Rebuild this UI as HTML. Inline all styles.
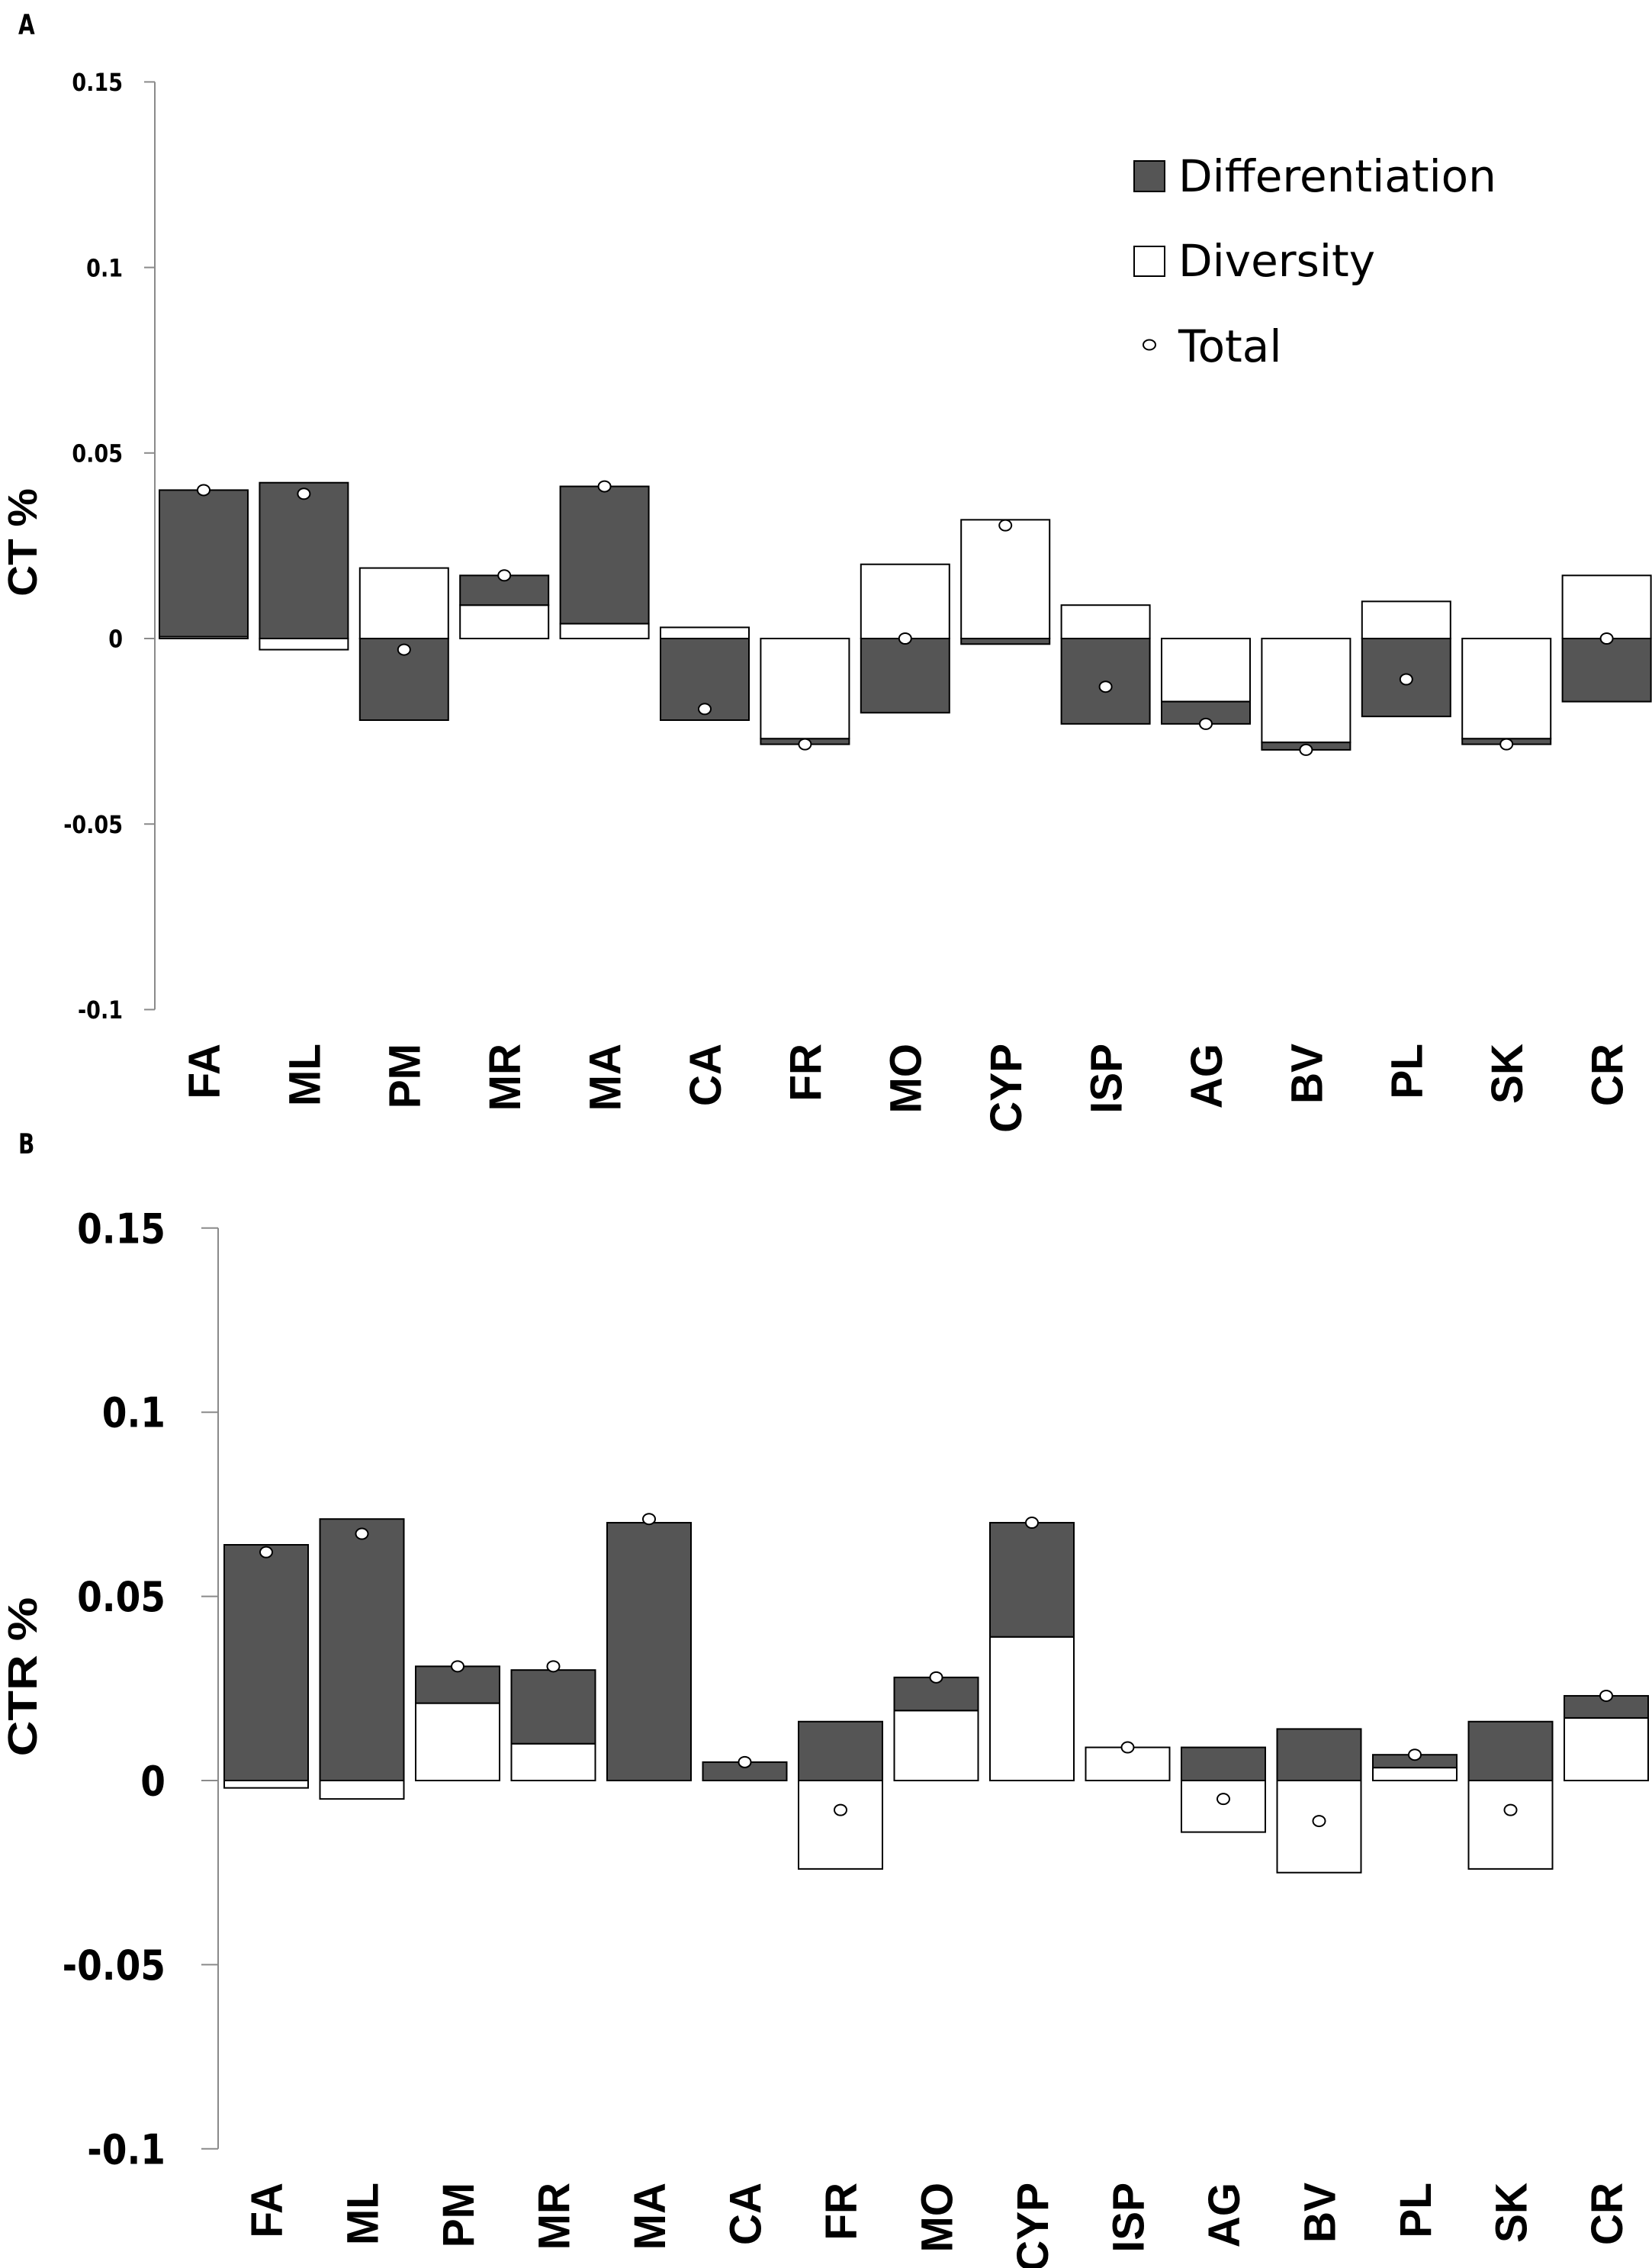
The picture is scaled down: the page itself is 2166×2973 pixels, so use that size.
<!DOCTYPE html>
<html><head><meta charset="utf-8"><style>
html,body{margin:0;padding:0;background:#fff;}
svg{display:block;}
</style></head><body>
<svg id="fig" width="2166" height="2973" viewBox="0 0 2166 2973" xmlns="http://www.w3.org/2000/svg">
<rect x="0" y="0" width="2166" height="2973" fill="#fff"/>
<text transform="translate(24,45) scale(1,1.3)" font-family="DejaVu Sans, sans-serif" font-weight="bold" font-size="28">A</text>
<text transform="translate(24,1512) scale(1,1.3)" font-family="DejaVu Sans, sans-serif" font-weight="bold" font-size="28">B</text>
<g font-family="DejaVu Sans, sans-serif" font-size="58" fill="#000">
  <rect x="1487" y="211" width="40" height="40" fill="#555" stroke="#000" stroke-width="2"/>
  <text x="1545" y="251">Differentiation</text>
  <rect x="1487" y="323" width="40" height="39" fill="#fff" stroke="#000" stroke-width="2"/>
  <text x="1545" y="362">Diversity</text>
  <ellipse cx="1507" cy="452" rx="8" ry="6.5" fill="#fff" stroke="#000" stroke-width="2"/>
  <text x="1545" y="474">Total</text>
</g>
<g id="chartA"></g>
<g id="chartB"></g>
</svg>
<script>
const categories = ["FA","ML","PM","MR","MA","CA","FR","MO","CYP","ISP","AG","BV","PL","SK","CR"];
const ticks = [0.15, 0.1, 0.05, 0, -0.05, -0.1];
const tickLabels = ["0.15","0.1","0.05","0","-0.05","-0.1"];
// Panel A (CT %)
const divA   = [0.0005,-0.003,0.019,0.009,0.004,0.003,-0.027,0.020,0.032,0.009,-0.017,-0.028,0.010,-0.027,0.017];
const diffA  = [0.0395,0.042,-0.022,0.008,0.037,-0.022,-0.0015,-0.020,-0.0015,-0.023,-0.006,-0.002,-0.021,-0.0015,-0.017];
const totalA = [0.040,0.039,-0.003,0.017,0.041,-0.019,-0.0285,0.000,0.0305,-0.013,-0.023,-0.030,-0.011,-0.0285,0.000];
// Panel B (CTR %)
const divB   = [-0.002,-0.005,0.021,0.010,0,0,-0.024,0.019,0.039,0.009,-0.014,-0.025,0.0035,-0.024,0.017];
const diffB  = [0.064,0.071,0.010,0.020,0.070,0.005,0.016,0.009,0.031,0,0.009,0.014,0.0035,0.016,0.006];
const totalB = [0.062,0.067,0.031,0.031,0.071,0.005,-0.008,0.028,0.070,0.009,-0.005,-0.011,0.007,-0.008,0.023];

const NS = "http://www.w3.org/2000/svg";
function mk(parent, tag, attrs){
  const e = document.createElementNS(NS, tag);
  for (const k in attrs) e.setAttribute(k, attrs[k]);
  parent.appendChild(e);
  return e;
}

function drawPanel(gid, cfg, div, diff, total){
  const g = document.getElementById(gid);
  const y = v => cfg.y0 - v / 0.05 * cfg.step;
  const x = i => cfg.x0 + i * cfg.pitch;
  const ax = mk(g, "line", {x1:cfg.axisX, x2:cfg.axisX, y1:y(0.15), y2:y(-0.1), stroke:"#8a8a8a", "stroke-width":2});
  
  
  ticks.forEach((t, i) => {
    const tl = mk(g, "line", {x1:cfg.axisX - cfg.tickLen, x2:cfg.axisX, y1:y(t), y2:y(t), stroke:"#8a8a8a", "stroke-width":2});
    
    
    const ty = y(t) + cfg.tickFont*0.36*cfg.tickScale;
    const tx = mk(g, "text", {transform:`translate(${cfg.labelRight},${ty}) scale(1,${cfg.tickScale})`, "text-anchor":"end", "font-family":"DejaVu Sans, sans-serif", "font-weight":"bold", "font-size":cfg.tickFont});
    tx.textContent = tickLabels[i];
    
    
  });
  const title = mk(g, "text", {transform:`translate(${cfg.titleX},${cfg.titleY}) rotate(-90) scale(${cfg.titleStretch},1)`, "text-anchor":"middle", "font-family":"Liberation Sans, sans-serif", "font-weight":"bold", "font-size":cfg.titleFont});
  title.textContent = cfg.title;
  
  

  categories.forEach((c, i) => {
    const bx = x(i);
    let pos = 0, neg = 0;
    const segs = [[div[i], "#fff", "diversity"], [diff[i], "#555", "differentiation"]];
    segs.forEach(([v, fill, nm]) => {
      if (v === 0) return;
      let a, b;
      if (v > 0) { a = pos; b = pos + v; pos = b; } else { a = neg; b = neg + v; neg = b; }
      const top = Math.min(y(a), y(b)), h = Math.abs(y(a) - y(b));
      const r = mk(g, "rect", {x:bx, y:top, width:cfg.barW, height:h, fill:fill, stroke:"#000", "stroke-width":2});
      
      
    });
    const d = mk(g, "ellipse", {cx:bx + cfg.barW/2, cy:y(total[i]), rx:8, ry:7, fill:"#fff", stroke:"#000", "stroke-width":2});
    
    
    const lx = bx + cfg.barW/2 + cfg.catFont*0.36;
    const t = mk(g, "text", {transform:`translate(${lx},${cfg.catTop}) rotate(-90) scale(0.98,1)`, "text-anchor":"end", "font-family":"Liberation Sans, sans-serif", "font-weight":"bold", "font-size":cfg.catFont});
    t.textContent = c;
    
    
  });
}

drawPanel("chartA", {y0:837, step:243.2, x0:209, pitch:131.4, barW:116, axisX:203, tickLen:14,
  labelRight:161, tickFont:27, tickScale:1.2, title:"CT %", titleX:48, titleY:711, titleFont:54, titleStretch:1.05, catTop:1368, catFont:58},
  divA, diffA, totalA);
drawPanel("chartB", {y0:2334, step:241.4, x0:294, pitch:125.5, barW:110, axisX:286, tickLen:22,
  labelRight:217, tickFont:47, tickScale:1.15, title:"CTR %", titleX:48, titleY:2198, titleFont:54, titleStretch:1.2, catTop:2861, catFont:58},
  divB, diffB, totalB);
</script>
</body></html>
